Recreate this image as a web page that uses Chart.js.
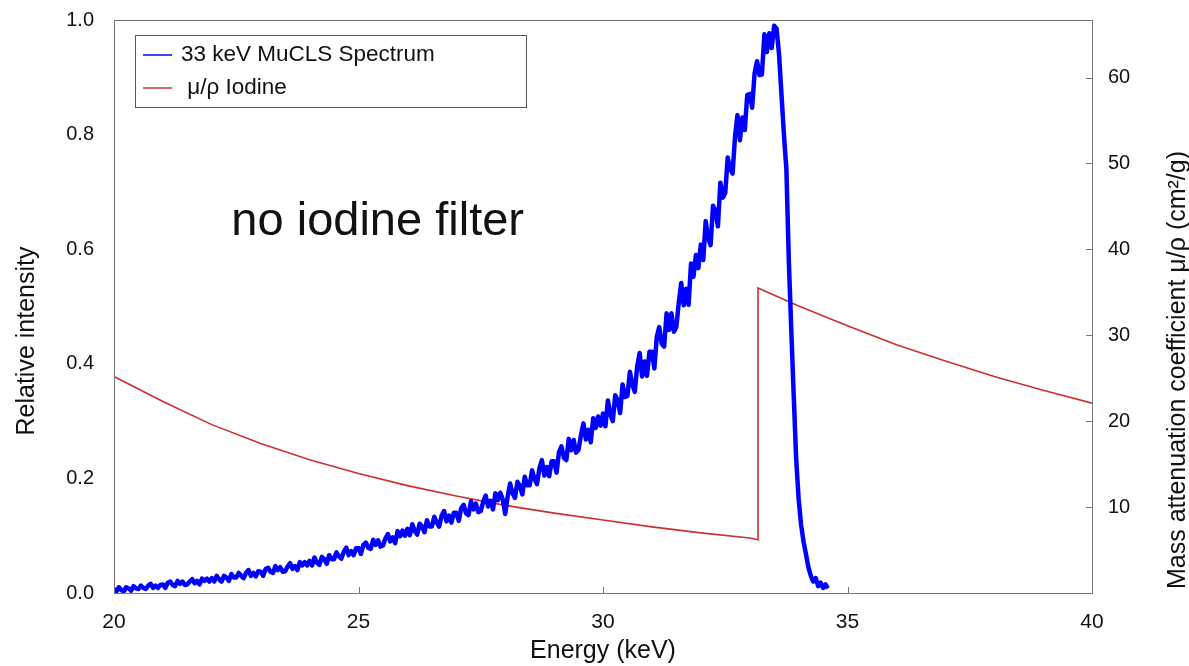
<!DOCTYPE html>
<html lang="en">
<head>
<meta charset="UTF-8">
<title>33 keV MuCLS spectrum and iodine attenuation</title>
<script src="https://cdn.jsdelivr.net/npm/chart.js"></script>
<style>
  body { margin: 0; background: #fff; }
  #wrap { width: 1189px; height: 666px; }
</style>
</head>
<body>
<div id="wrap"><canvas id="chart" width="1189" height="666"></canvas></div>
<script>
// MuCLS spectrum, energy in keV, 0.05 keV bins
const energyKeV = [
  20.00,20.05,20.10,20.15,20.20,20.25,20.30,20.35,20.40,20.45,
  20.50,20.55,20.60,20.65,20.70,20.75,20.80,20.85,20.90,20.95,
  21.00,21.05,21.10,21.15,21.20,21.25,21.30,21.35,21.40,21.45,
  21.50,21.55,21.60,21.65,21.70,21.75,21.80,21.85,21.90,21.95,
  22.00,22.05,22.10,22.15,22.20,22.25,22.30,22.35,22.40,22.45,
  22.50,22.55,22.60,22.65,22.70,22.75,22.80,22.85,22.90,22.95,
  23.00,23.05,23.10,23.15,23.20,23.25,23.30,23.35,23.40,23.45,
  23.50,23.55,23.60,23.65,23.70,23.75,23.80,23.85,23.90,23.95,
  24.00,24.05,24.10,24.15,24.20,24.25,24.30,24.35,24.40,24.45,
  24.50,24.55,24.60,24.65,24.70,24.75,24.80,24.85,24.90,24.95,
  25.00,25.05,25.10,25.15,25.20,25.25,25.30,25.35,25.40,25.45,
  25.50,25.55,25.60,25.65,25.70,25.75,25.80,25.85,25.90,25.95,
  26.00,26.05,26.10,26.15,26.20,26.25,26.30,26.35,26.40,26.45,
  26.50,26.55,26.60,26.65,26.70,26.75,26.80,26.85,26.90,26.95,
  27.00,27.05,27.10,27.15,27.20,27.25,27.30,27.35,27.40,27.45,
  27.50,27.55,27.60,27.65,27.70,27.75,27.80,27.85,27.90,27.95,
  28.00,28.05,28.10,28.15,28.20,28.25,28.30,28.35,28.40,28.45,
  28.50,28.55,28.60,28.65,28.70,28.75,28.80,28.85,28.90,28.95,
  29.00,29.05,29.10,29.15,29.20,29.25,29.30,29.35,29.40,29.45,
  29.50,29.55,29.60,29.65,29.70,29.75,29.80,29.85,29.90,29.95,
  30.00,30.05,30.10,30.15,30.20,30.25,30.30,30.35,30.40,30.45,
  30.50,30.55,30.60,30.65,30.70,30.75,30.80,30.85,30.90,30.95,
  31.00,31.05,31.10,31.15,31.20,31.25,31.30,31.35,31.40,31.45,
  31.50,31.55,31.60,31.65,31.70,31.75,31.80,31.85,31.90,31.95,
  32.00,32.05,32.10,32.15,32.20,32.25,32.30,32.35,32.40,32.45,
  32.50,32.55,32.60,32.65,32.70,32.75,32.80,32.85,32.90,32.95,
  33.00,33.05,33.10,33.15,33.20,33.25,33.30,33.35,33.40,33.45,
  33.50,33.55,33.60,33.65,33.70,33.75,33.80,33.85,33.90,33.95,
  34.00,34.05,34.10,34.15,34.20,34.25,34.30,34.35,34.40,34.45,34.50,34.55,34.60
];
const intensity = [
  .007,.003,.010,.005,.003,.010,.008,.004,.012,.008,
  .007,.013,.009,.007,.013,.016,.009,.013,.009,.014,
  .015,.009,.018,.020,.014,.012,.021,.016,.020,.014,
  .015,.020,.024,.017,.021,.015,.025,.021,.025,.020,
  .026,.020,.030,.024,.020,.030,.027,.021,.033,.027,
  .027,.035,.030,.026,.035,.040,.030,.035,.029,.038,
  .037,.030,.042,.044,.037,.035,.047,.040,.045,.037,
  .038,.046,.052,.042,.047,.040,.054,.048,.054,.048,
  .056,.048,.062,.053,.049,.063,.059,.051,.066,.059,
  .059,.071,.064,.060,.072,.079,.066,.073,.066,.078,
  .078,.068,.084,.088,.079,.077,.093,.084,.092,.081,
  .083,.095,.103,.090,.097,.087,.108,.099,.109,.100,
  .112,.101,.120,.108,.102,.121,.116,.106,.127,.116,
  .116,.133,.123,.116,.135,.143,.125,.135,.123,.140,
  .140,.126,.148,.154,.139,.136,.160,.146,.156,.141,
  .143,.159,.170,.151,.161,.146,.174,.162,.175,.163,
  .138,.168,.191,.174,.166,.194,.187,.172,.203,.188,
  .188,.214,.199,.190,.218,.232,.205,.220,.204,.230,
  .230,.210,.246,.256,.236,.232,.269,.249,.267,.245,
  .250,.276,.296,.268,.285,.263,.305,.288,.308,.292,
  .313,.291,.336,.312,.300,.345,.336,.314,.364,.342,
  .344,.386,.364,.351,.396,.419,.378,.404,.379,.421,
  .421,.392,.447,.464,.435,.430,.488,.459,.488,.456,
  .464,.507,.541,.502,.531,.503,.575,.552,.590,.567,
  .608,.581,.649,.620,.607,.676,.667,.640,.716,.690,
  .698,.760,.740,.732,.797,.834,.790,.830,.808,.869,
  .871,.847,.907,.928,.904,.905,.975,.944,.977,.951,
  .990,.985,.940,.870,.800,.740,.580,.460,.345,.235,
  .165,.120,.090,.068,.045,.030,.020,.026,.012,.018,.009,.015,.008
];

// iodine mass attenuation coefficient (cm2/g), K-edge at 33.17 keV
const iodineEnergy = [20,21,22,23,24,25,26,27,28,29,30,31,32,33,33.17,33.17,34,35,36,37,38,39,40];
const iodineMuRho  = [25.2,22.3,19.6,17.4,15.5,13.9,12.5,11.3,10.2,9.3,8.5,7.7,7.0,6.4,6.2,35.5,33.4,31.1,28.9,27.0,25.2,23.6,22.1];

const xTicks = [20, 25, 30, 35, 40];
const yTicks = [0, 0.2, 0.4, 0.6, 0.8, 1.0];
const y1Ticks = [10, 20, 30, 40, 50, 60];

const FONT = '"Liberation Sans", Arial, sans-serif';

const frame = {
  id: 'frame',
  afterDraw(chart) {
    const { ctx, chartArea: a, scales } = chart;
    ctx.save();

    // plot box
    ctx.strokeStyle = '#777';
    ctx.lineWidth = 1;
    ctx.strokeRect(a.left + 0.5, a.top + 0.5, a.right - a.left, a.bottom - a.top);

    // inward tick marks
    ctx.beginPath();
    xTicks.forEach(v => {
      const px = Math.round(scales.x.getPixelForValue(v)) + 0.5;
      ctx.moveTo(px, a.bottom); ctx.lineTo(px, a.bottom - 6);
    });
    y1Ticks.forEach(v => {
      const py = Math.round(scales.y1.getPixelForValue(v)) + 0.5;
      ctx.moveTo(a.right, py); ctx.lineTo(a.right - 6, py);
    });
    ctx.stroke();

    // vertical axis titles
    ctx.fillStyle = '#111';
    ctx.textAlign = 'center';
    ctx.textBaseline = 'middle';
    ctx.font = '25px ' + FONT;
    ctx.save();
    ctx.translate(27, 341);
    ctx.rotate(-Math.PI / 2);
    ctx.fillText('Relative intensity', 0, 0);
    ctx.restore();
    ctx.save();
    ctx.translate(1178, 370);
    ctx.rotate(-Math.PI / 2);
    ctx.fillText('Mass attenuation coefficient \u03bc/\u03c1 (cm\u00b2/g)', 0, 0);
    ctx.restore();

    // annotation
    ctx.textAlign = 'left';
    ctx.textBaseline = 'alphabetic';
    ctx.font = '47px ' + FONT;
    ctx.fillText('no iodine filter', scales.x.getPixelForValue(22.4), scales.y.getPixelForValue(0.624));

    // boxed legend
    const bx = a.left + 21, by = a.top + 15, bw = 391, bh = 72;
    ctx.fillStyle = '#fff';
    ctx.fillRect(bx, by, bw, bh);
    ctx.strokeStyle = '#555';
    ctx.strokeRect(bx + 0.5, by + 0.5, bw, bh);
    ctx.font = '22.5px ' + FONT;
    ctx.textBaseline = 'middle';
    chart.data.datasets.forEach((ds, i) => {
      const ry = by + 20 + i * 33;
      ctx.strokeStyle = ds.borderColor;
      ctx.lineWidth = 1.5;
      ctx.beginPath();
      ctx.moveTo(bx + 8, ry); ctx.lineTo(bx + 37, ry);
      ctx.stroke();
      ctx.fillStyle = '#111';
      ctx.fillText(ds.label, bx + 46, ry);
    });
    ctx.restore();
  }
};

new Chart(document.getElementById('chart'), {
  type: 'line',
  data: {
    datasets: [
      {
        label: '33 keV MuCLS Spectrum',
        data: energyKeV.map((e, i) => ({ x: e, y: intensity[i] })),
        borderColor: '#0000ff',
        borderWidth: 4.5,
        borderJoinStyle: 'round',
        pointRadius: 0,
        tension: 0,
        yAxisID: 'y'
      },
      {
        label: ' \u03bc/\u03c1 Iodine',
        data: iodineEnergy.map((e, i) => ({ x: e, y: iodineMuRho[i] })),
        borderColor: '#cc2f2f',
        borderWidth: 1.6,
        pointRadius: 0,
        tension: 0,
        yAxisID: 'y1'
      }
    ]
  },
  options: {
    responsive: false,
    animation: false,
    devicePixelRatio: 1,
    layout: { padding: { top: 20, left: 0, right: 0, bottom: 0 } },
    plugins: { legend: { display: false }, tooltip: { enabled: false } },
    scales: {
      x: {
        type: 'linear', min: 20, max: 40,
        afterBuildTicks: s => { s.ticks = xTicks.map(v => ({ value: v })); },
        afterFit: s => { s.height = 73; s.paddingLeft = 0; s.paddingRight = 0; },
        grid: { display: false }, border: { display: false },
        ticks: { color: '#111', padding: 9, font: { family: FONT, size: 21 } },
        title: { display: true, text: 'Energy (keV)', color: '#111', padding: { top: 0, bottom: 0 }, font: { family: FONT, size: 25 } }
      },
      y: {
        position: 'left', min: 0, max: 1,
        afterBuildTicks: s => { s.ticks = yTicks.map(v => ({ value: v })); },
        afterFit: s => { s.width = 114; s.paddingTop = 0; s.paddingBottom = 0; },
        grid: { display: false }, border: { display: false },
        ticks: { color: '#111', padding: 12, font: { family: FONT, size: 20 }, callback: v => v.toFixed(1) }
      },
      y1: {
        position: 'right', min: 0, max: 66.7,
        afterBuildTicks: s => { s.ticks = y1Ticks.map(v => ({ value: v })); },
        afterFit: s => { s.width = 97; s.paddingTop = 0; s.paddingBottom = 0; },
        grid: { display: false }, border: { display: false },
        ticks: { color: '#111', padding: 8, font: { family: FONT, size: 20 } }
      }
    }
  },
  plugins: [frame]
});
</script>
</body>
</html>
